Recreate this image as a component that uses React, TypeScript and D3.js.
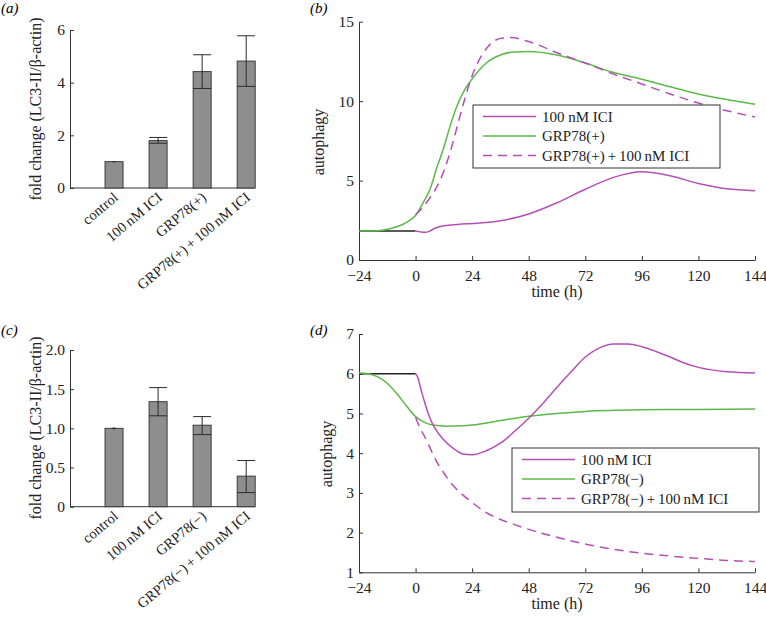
import React, { useEffect, useRef } from "react";
import * as d3 from "d3";

// bar panels (a) and (c)
const barCategoriesA = ["control", "100\u2009nM ICI", "GRP78(+)", "GRP78(+)\u2009+\u2009100\u2009nM ICI"];
const barMeansA = [1.0, 1.8, 4.42, 4.82];
const barErrLowA = [0.98, 1.7, 3.78, 3.86];
const barErrHighA = [1.02, 1.92, 5.06, 5.78];

const barCategoriesC = ["control", "100\u2009nM ICI", "GRP78(\u2212)", "GRP78(\u2212)\u2009+\u2009100\u2009nM ICI"];
const barMeansC = [1.0, 1.34, 1.04, 0.39];
const barErrLowC = [0.99, 1.16, 0.92, 0.18];
const barErrHighC = [1.01, 1.52, 1.15, 0.59];

const yTicksA = [0, 2, 4, 6];
const yTicksC = [0, 0.5, 1.0, 1.5, 2.0];

// line panels (b) and (d)
const timeTicks = [-24, 0, 24, 48, 72, 96, 120, 144];
const yTicksB = [0, 5, 10, 15];
const yTicksD = [1, 2, 3, 4, 5, 6, 7];

// (b) control baseline
const bBaseTime = [-24, 0];
const bBaseVal = [1.82, 1.82];
// (b) 100 nM ICI
const bIciTime = [0, 2, 4, 6, 8, 12, 18, 24, 30, 36, 48, 60, 72, 84, 96, 108, 120, 132, 144];
const bIciVal = [1.82, 1.77, 1.74, 1.82, 1.98, 2.15, 2.24, 2.3, 2.36, 2.47, 2.9, 3.6, 4.45, 5.2, 5.55, 5.3, 4.82, 4.48, 4.36];
// (b) GRP78(+)
const bGrpTime = [-24, -18, -14, -10, -6, -3, 0, 3, 6, 9, 12, 15, 18, 21, 24, 30, 36, 42, 48, 60, 72, 84, 96, 108, 120, 132, 144];
const bGrpVal = [1.82, 1.83, 1.88, 2.0, 2.2, 2.45, 2.8, 3.55, 4.4, 5.8, 7.1, 8.6, 9.85, 10.75, 11.4, 12.4, 12.9, 13.1, 13.12, 12.9, 12.4, 11.8, 11.38, 10.9, 10.45, 10.1, 9.8];
// (b) GRP78(+) + 100 nM ICI
const bBothTime = [0, 3, 6, 9, 12, 15, 18, 21, 24, 27, 30, 33, 36, 40, 48, 60, 72, 84, 96, 108, 120, 132, 144];
const bBothVal = [2.85, 3.3, 3.9, 4.6, 5.6, 6.95, 8.6, 10.2, 11.6, 12.6, 13.3, 13.75, 13.95, 14.0, 13.75, 13.05, 12.4, 11.7, 11.08, 10.45, 9.88, 9.4, 9.0];

// (d) control baseline
const dBaseTime = [-24, 0];
const dBaseVal = [6.0, 6.0];
// (d) 100 nM ICI
const dIciTime = [0, 1, 2, 4, 6, 8, 12, 16, 20, 24, 30, 36, 42, 48, 54, 60, 66, 72, 78, 84, 90, 96, 102, 108, 114, 120, 132, 144];
const dIciVal = [6.0, 5.9, 5.67, 5.25, 4.9, 4.65, 4.33, 4.12, 3.98, 3.96, 4.06, 4.25, 4.55, 4.88, 5.25, 5.66, 6.05, 6.42, 6.65, 6.75, 6.75, 6.68, 6.56, 6.42, 6.27, 6.16, 6.05, 6.02];
// (d) GRP78(-)
const dGrpTime = [-24, -20, -16, -12, -8, -4, 0, 4, 8, 13, 20, 24, 36, 48, 60, 72, 96, 120, 144];
const dGrpVal = [6.02, 6.0, 5.92, 5.76, 5.5, 5.2, 4.92, 4.77, 4.7, 4.68, 4.69, 4.71, 4.82, 4.93, 5.0, 5.05, 5.09, 5.1, 5.11];
// (d) GRP78(-) + 100 nM ICI
const dBothTime = [0, 2, 4, 6, 9, 12, 16, 20, 24, 30, 36, 42, 48, 60, 72, 84, 96, 108, 120, 132, 144];
const dBothVal = [4.9, 4.62, 4.4, 4.15, 3.78, 3.5, 3.18, 2.95, 2.76, 2.5, 2.33, 2.2, 2.08, 1.88, 1.71, 1.58, 1.48, 1.41, 1.35, 1.3, 1.27];

const legendB = ["100 nM ICI", "GRP78(+)", "GRP78(+)\u2009+\u2009100\u2009nM ICI"];
const legendD = ["100 nM ICI", "GRP78(\u2212)", "GRP78(\u2212)\u2009+\u2009100\u2009nM ICI"];

const MAGENTA = "#b44fb4";
const GREEN = "#5cb848";
const AXIS = "#333";
const FONT = "'Liberation Serif', 'DejaVu Serif', serif";
const TICK_SIZE = 15.5;
const LABEL_SIZE = 16;

const zip = (t: number[], v: number[]) => t.map((x, i) => [x, v[i]] as [number, number]);

const styleAxis = (g: any) => {
  g.attr("font-family", FONT).attr("font-size", TICK_SIZE);
  g.select(".domain").attr("stroke", AXIS);
  g.selectAll(".tick line").attr("stroke", AXIS);
  g.selectAll(".tick text").attr("fill", "#222");
};

function drawBarPanel(svg: any, o: any) {
  const x = d3.scaleLinear().domain([0, 4.2]).range([70, 255]);
  const y = d3.scaleLinear().domain(o.yDomain).range(o.yRange);
  const bw = 18;

  svg
    .append("g")
    .attr("transform", `translate(70,0)`)
    .call(d3.axisLeft(y).tickValues(o.yTicks).tickSizeInner(-4).tickSizeOuter(0).tickPadding(5).tickFormat(o.fmt))
    .call(styleAxis);
  svg
    .append("line")
    .attr("x1", 70)
    .attr("x2", 255)
    .attr("y1", y(0))
    .attr("y2", y(0))
    .attr("stroke", AXIS);

  const idx = o.cats.map((_: any, i: number) => i);
  svg
    .selectAll(null)
    .data(idx)
    .join("rect")
    .attr("x", (i: number) => x(i + 1) - bw / 2)
    .attr("y", (i: number) => y(o.means[i]))
    .attr("width", bw)
    .attr("height", (i: number) => y(0) - y(o.means[i]))
    .attr("fill", "#8e8e8e")
    .attr("stroke", "#3a3a3a")
    .attr("stroke-width", 1);

  // error bars
  idx.forEach((i: number) => {
    const cx = x(i + 1);
    const g = svg.append("g").attr("stroke", "#2a2a2a").attr("stroke-width", 1);
    g.append("line").attr("x1", cx).attr("x2", cx).attr("y1", y(o.lo[i])).attr("y2", y(o.hi[i])).attr("stroke-width", i === 0 ? 3 : 1);
    if (i > 0) {
      g.append("line").attr("x1", cx - bw / 2).attr("x2", cx + bw / 2).attr("y1", y(o.hi[i])).attr("y2", y(o.hi[i]));
      g.append("line").attr("x1", cx - bw / 2).attr("x2", cx + bw / 2).attr("y1", y(o.lo[i])).attr("y2", y(o.lo[i]));
    }
  });

  // rotated category labels
  svg
    .selectAll(null)
    .data(o.cats)
    .join("text")
    .attr("transform", (_: any, i: number) => `translate(${x(i + 1) + 5},${y(0) + 11}) rotate(-40)`)
    .attr("text-anchor", "end")
    .attr("font-family", FONT)
    .attr("font-size", 14.5)
    .attr("fill", "#222")
    .text((d: string) => d);

  svg
    .append("text")
    .attr("transform", `translate(41,${o.labelY}) rotate(-90)`)
    .attr("text-anchor", "middle")
    .attr("font-family", FONT)
    .attr("font-size", LABEL_SIZE)
    .attr("fill", "#222")
    .text("fold change (LC3-II/\u03b2-actin)");

  svg
    .append("text")
    .attr("x", 1)
    .attr("y", o.tagY)
    .attr("font-family", FONT)
    .attr("font-style", "italic")
    .attr("font-size", 15)
    .text(o.tag);
}

function drawLinePanel(svg: any, o: any) {
  const x = d3.scaleLinear().domain([-24, 144]).range([359, 755]);
  const y = d3.scaleLinear().domain(o.yDomain).range(o.yRange);
  const y0 = o.yRange[0];

  svg
    .append("g")
    .attr("transform", `translate(0,${y0})`)
    .call(d3.axisBottom(x).tickValues(timeTicks).tickSizeInner(-4).tickSizeOuter(0).tickPadding(10))
    .call(styleAxis);
  svg
    .append("g")
    .attr("transform", `translate(359,0)`)
    .call(d3.axisLeft(y).tickValues(o.yTicks).tickSizeInner(-4).tickSizeOuter(0).tickPadding(5).tickFormat(d3.format("d")))
    .call(styleAxis);

  const line = d3
    .line()
    .x((d: any) => x(d[0]))
    .y((d: any) => y(d[1]))
    .curve(d3.curveMonotoneX);

  const series = [
    { pts: zip(o.base[0], o.base[1]), color: "#222", dash: null },
    { pts: zip(o.grp[0], o.grp[1]), color: GREEN, dash: null },
    { pts: zip(o.ici[0], o.ici[1]), color: MAGENTA, dash: null },
    { pts: zip(o.both[0], o.both[1]), color: MAGENTA, dash: "9,6" },
  ];
  series.forEach((s) => {
    svg
      .append("path")
      .datum(s.pts)
      .attr("d", line as any)
      .attr("fill", "none")
      .attr("stroke", s.color)
      .attr("stroke-width", 1.5)
      .attr("stroke-dasharray", s.dash);
  });

  // legend
  const L = o.legend;
  svg
    .append("rect")
    .attr("x", L.x)
    .attr("y", L.y)
    .attr("width", L.w)
    .attr("height", L.h)
    .attr("fill", "white")
    .attr("stroke", AXIS)
    .attr("stroke-width", 1);
  const items = [
    { color: MAGENTA, dash: null },
    { color: GREEN, dash: null },
    { color: MAGENTA, dash: "9,6" },
  ];
  items.forEach((it, i) => {
    const ly = L.y + 11.5 + i * 19.5;
    svg
      .append("line")
      .attr("x1", L.x + 10)
      .attr("x2", L.x + 63)
      .attr("y1", ly)
      .attr("y2", ly)
      .attr("stroke", it.color)
      .attr("stroke-width", 1.5)
      .attr("stroke-dasharray", it.dash);
    svg
      .append("text")
      .attr("x", L.x + 69)
      .attr("y", ly + 5)
      .attr("font-family", FONT)
      .attr("font-size", 15)
      .attr("fill", "#222")
      .text(o.labels[i]);
  });

  svg
    .append("text")
    .attr("x", 557)
    .attr("y", y0 + 37)
    .attr("text-anchor", "middle")
    .attr("font-family", FONT)
    .attr("font-size", LABEL_SIZE)
    .attr("fill", "#222")
    .text("time (h)");

  svg
    .append("text")
    .attr("transform", `translate(${o.ylabX},${o.labelY}) rotate(-90)`)
    .attr("text-anchor", "middle")
    .attr("font-family", FONT)
    .attr("font-size", LABEL_SIZE)
    .attr("fill", "#222")
    .text("autophagy");

  svg
    .append("text")
    .attr("x", 310)
    .attr("y", o.tagY)
    .attr("font-family", FONT)
    .attr("font-style", "italic")
    .attr("font-size", 15)
    .text(o.tag);
}

const App = () => {
  const svgRef = useRef(null);

  useEffect(() => {
    const svg = d3.select(svgRef.current);
    svg.selectAll("*").remove();

    drawBarPanel(svg, {
      cats: barCategoriesA,
      means: barMeansA,
      lo: barErrLowA,
      hi: barErrHighA,
      yDomain: [0, 6],
      yRange: [188, 30],
      yTicks: yTicksA,
      fmt: d3.format("d"),
      labelY: 109,
      tag: "(a)",
      tagY: 13,
    });
    drawBarPanel(svg, {
      cats: barCategoriesC,
      means: barMeansC,
      lo: barErrLowC,
      hi: barErrHighC,
      yDomain: [0, 2],
      yRange: [506.7, 350],
      yTicks: yTicksC,
      fmt: (d: number) => (d === 0 ? "0" : d3.format(".1f")(d)),
      labelY: 428,
      tag: "(c)",
      tagY: 335,
    });
    drawLinePanel(svg, {
      yDomain: [0, 15],
      yRange: [260, 21.7],
      yTicks: yTicksB,
      base: [bBaseTime, bBaseVal],
      ici: [bIciTime, bIciVal],
      grp: [bGrpTime, bGrpVal],
      both: [bBothTime, bBothVal],
      labels: legendB,
      legend: { x: 473, y: 105, w: 247, h: 63 },
      ylabX: 324,
      labelY: 142,
      tag: "(b)",
      tagY: 13,
    });
    drawLinePanel(svg, {
      yDomain: [1, 7],
      yRange: [572.3, 334],
      yTicks: yTicksD,
      base: [dBaseTime, dBaseVal],
      ici: [dIciTime, dIciVal],
      grp: [dGrpTime, dGrpVal],
      both: [dBothTime, dBothVal],
      labels: legendD,
      legend: { x: 512, y: 448, w: 247, h: 64 },
      ylabX: 332,
      labelY: 454,
      tag: "(d)",
      tagY: 335,
    });
  }, []);

  return (
    <svg
      ref={svgRef}
      width={766}
      height={617}
      style={{ position: "absolute", left: 0, top: 0, background: "white" }}
    ></svg>
  );
};

export default App;
